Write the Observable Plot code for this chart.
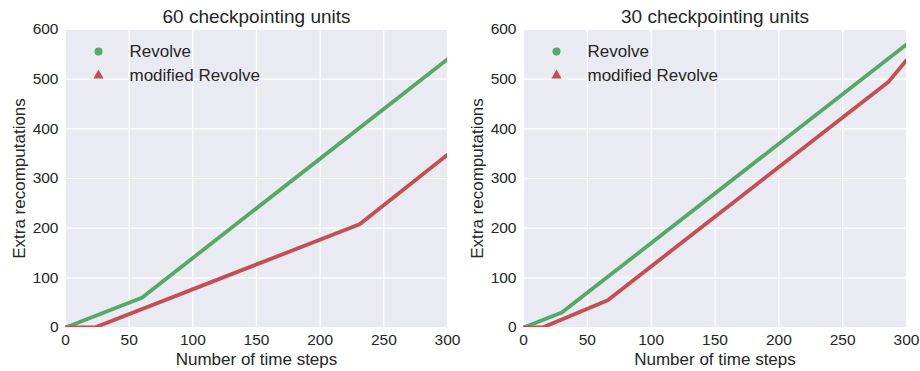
<!DOCTYPE html>
<html>
<head>
<meta charset="utf-8">
<script src="https://cdn.jsdelivr.net/npm/d3@7"></script>
<script src="https://cdn.jsdelivr.net/npm/@observablehq/plot@0.6"></script>
<style>
  html, body { margin: 0; padding: 0; background: #ffffff; }
  #wrap { display: flex; width: 920px; height: 371px; }
</style>
</head>
<body>
<div id="wrap"></div>
<script>
// ---- data ----
const xTicks = [0, 50, 100, 150, 200, 250, 300];
const yTicks = [0, 100, 200, 300, 400, 500, 600];

const panelTitles = ["60 checkpointing units", "30 checkpointing units"];
const seriesNames = ["Revolve", "modified Revolve"];

const rev60Steps = [0, 60, 300];
const rev60Extra = [0, 60, 540];
const mod60Steps = [0, 23, 231, 300];
const mod60Extra = [0, 0, 208, 348];

const rev30Steps = [0, 30, 300];
const rev30Extra = [0, 30, 570];
const mod30Steps = [0, 15, 66, 286, 300];
const mod30Extra = [0, 0, 55, 495, 538];

// ---- styling ----
const GREEN = "#55a868";
const RED = "#c44e52";
const BG = "#eaeaf2";
const TEXT = "#262626";
const FONT = "'Liberation Sans', Arial, Helvetica, sans-serif";

function toRows(steps, vals) { return steps.map((s, i) => ({x: s, y: vals[i]})); }

function panel(title, rev, mod, ml, mr) {
  return Plot.plot({
    width: 460,
    height: 371,
    marginLeft: ml,
    marginRight: mr,
    marginTop: 29,
    marginBottom: 44,
    style: {fontFamily: FONT, color: TEXT, background: "transparent", overflow: "visible"},
    x: {domain: [0, 300], ticks: xTicks},
    y: {domain: [0, 600], ticks: yTicks},
    marks: [
      Plot.frame({fill: BG, stroke: null}),
      Plot.gridX(xTicks, {stroke: "#ffffff", strokeOpacity: 1, strokeWidth: 1.2}),
      Plot.gridY(yTicks, {stroke: "#ffffff", strokeOpacity: 1, strokeWidth: 1.2}),
      Plot.axisX(xTicks, {tickSize: 0, tickPadding: 6, fontSize: 15.5, label: null, fill: TEXT}),
      Plot.axisY(yTicks, {tickSize: 0, tickPadding: 7, fontSize: 15.5, label: null, fill: TEXT}),
      Plot.line(rev, {x: "x", y: "y", stroke: GREEN, strokeWidth: 3.8, clip: true}),
      Plot.line(mod, {x: "x", y: "y", stroke: RED, strokeWidth: 3.8, clip: true}),
      // title and axis labels
      Plot.text([title], {text: d => d, frameAnchor: "top", lineAnchor: "middle", textAnchor: "middle", dy: -13, fontSize: 19, fill: TEXT}),
      Plot.text(["Number of time steps"], {text: d => d, frameAnchor: "bottom", lineAnchor: "middle", textAnchor: "middle", dy: 32, fontSize: 17, fill: TEXT}),
      Plot.text(["Extra recomputations"], {text: d => d, frameAnchor: "left", lineAnchor: "middle", textAnchor: "middle", dx: -46, rotate: -90, fontSize: 17, fill: TEXT}),
      // legend
      Plot.dot([seriesNames[0]], {frameAnchor: "top-left", dx: 33, dy: 22, r: 4, fill: GREEN, stroke: null, symbol: "circle"}),
      Plot.dot([seriesNames[1]], {frameAnchor: "top-left", dx: 33, dy: 46, r: 3.8, fill: RED, stroke: null, symbol: "triangle"}),
      Plot.text([seriesNames[0]], {text: d => d, frameAnchor: "top-left", lineAnchor: "middle", dx: 64, dy: 22, textAnchor: "start", fontSize: 17, fill: TEXT}),
      Plot.text([seriesNames[1]], {text: d => d, frameAnchor: "top-left", lineAnchor: "middle", dx: 64, dy: 46, textAnchor: "start", fontSize: 17, fill: TEXT})
    ]
  });
}

const wrap = document.getElementById("wrap");
wrap.appendChild(panel(panelTitles[0], toRows(rev60Steps, rev60Extra), toRows(mod60Steps, mod60Extra), 65, 13));
wrap.appendChild(panel(panelTitles[1], toRows(rev30Steps, rev30Extra), toRows(mod30Steps, mod30Extra), 63, 14));
</script>
</body>
</html>
